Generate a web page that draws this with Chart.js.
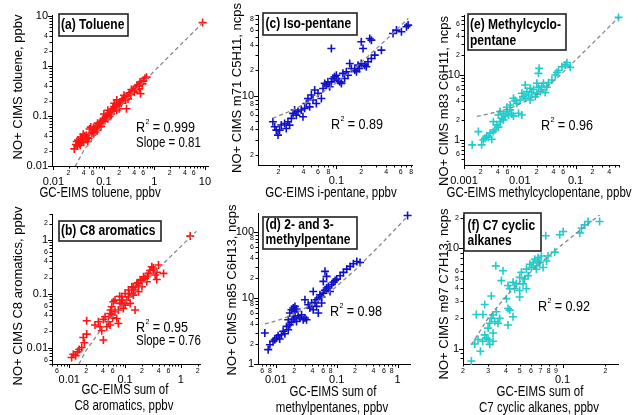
<!DOCTYPE html>
<html>
<head>
<meta charset="utf-8">
<title>NO+ CIMS vs GC-EIMS</title>
<script src="https://cdn.jsdelivr.net/npm/chart.js@4.4.1/dist/chart.umd.min.js"></script>
<style>
  body { margin: 0; background: #fff; }
  #fig { position: relative; width: 638px; height: 415px; overflow: hidden; }
  #fig canvas { position: absolute; left: 0; top: 0; }
</style>
</head>
<body>
<div id="fig">
  <canvas id="pa" width="638" height="415"></canvas>
  <canvas id="pb" width="638" height="415"></canvas>
  <canvas id="pc" width="638" height="415"></canvas>
  <canvas id="pd" width="638" height="415"></canvas>
  <canvas id="pe" width="638" height="415"></canvas>
  <canvas id="pf" width="638" height="415"></canvas>
</div>
<script>
// (a) toluene, ppbv vs ppbv
var tolX = [0.026,0.028,0.030,0.031,0.033,0.035,0.036,0.038,0.040,0.042,0.044,0.047,0.050,0.052,0.055,0.058,0.060,0.063,0.066,0.070,0.073,0.078,0.082,0.085,0.090,0.094,0.098,0.10,0.105,0.11,0.115,0.12,0.125,0.13,0.135,0.14,0.15,0.155,0.16,0.17,0.175,0.18,0.19,0.20,0.21,0.22,0.23,0.24,0.26,0.27,0.28,0.29,0.32,0.34,0.36,0.38,0.40,0.42,0.45,0.48,0.50,0.53,0.55,0.60,0.65,0.70,9.0,
            0.029,0.034,0.039,0.045,0.048,0.062,0.068,0.075,0.088,0.10,0.12,0.14,0.16,0.18,0.20,0.25,0.30,0.35,0.44,0.52,0.58];
var tolY = [0.022,0.027,0.025,0.033,0.028,0.038,0.031,0.035,0.030,0.040,0.034,0.037,0.036,0.055,0.060,0.046,0.050,0.044,0.055,0.060,0.052,0.066,0.061,0.075,0.070,0.082,0.078,0.090,0.085,0.10,0.095,0.13,0.11,0.098,0.12,0.13,0.14,0.125,0.155,0.15,0.17,0.21,0.16,0.14,0.19,0.18,0.20,0.22,0.24,0.21,0.14,0.25,0.29,0.27,0.31,0.33,0.30,0.36,0.40,0.42,0.35,0.28,0.45,0.50,0.57,0.60,7.4,
            0.031,0.026,0.043,0.041,0.031,0.058,0.048,0.072,0.062,0.11,0.088,0.11,0.18,0.13,0.17,0.26,0.22,0.34,0.34,0.48,0.44];
var tolFitX = [0.027,0.04,0.07,0.1,0.3,1,3,10];
var tolFitY = [0.0099,0.0204,0.0447,0.069,0.231,0.798,2.42,8.09];
var tolXMajor = [0.01,0.1,1,10], tolXMinor = [0.02,0.04,0.06,0.2,0.4,0.6,2,4,6];
var tolYMajor = [0.01,0.1,1,10], tolYMinor = [0.02,0.04,0.2,0.4,2,4];

// (b) C8 aromatics
var c8X = [0.011,0.0118,0.013,0.0141,0.0151,0.0167,0.0186,0.0178,0.0205,0.0205,0.0289,0.0332,0.0356,0.0408,0.0437,0.0381,0.0408,0.0502,0.0538,0.0576,0.0617,0.066,0.0708,0.0758,0.0812,0.087,0.093,0.10,0.107,0.115,0.123,0.132,0.141,0.151,0.162,0.174,0.186,0.20,0.214,0.245,0.263,0.301,0.322,0.346,0.37,0.489,0.397,0.066,0.0758,0.087,0.10,0.115,0.132,0.151,0.174,0.20,0.228,0.0469,0.0538,0.0576,1.47,0.37,
           0.055,0.08,0.12,0.14,0.17,0.25,0.28,0.32,0.09,0.06];
var c8Y = [0.0066,0.0076,0.0071,0.0084,0.0093,0.0101,0.0124,0.0155,0.0179,0.0316,0.0263,0.0303,0.0245,0.0335,0.0375,0.0207,0.0139,0.0303,0.0432,0.0574,0.0711,0.0464,0.0349,0.0282,0.0663,0.088,0.0535,0.101,0.0763,0.117,0.0663,0.135,0.0944,0.0499,0.155,0.109,0.179,0.135,0.206,0.167,0.238,0.316,0.274,0.222,0.25,0.238,0.34,0.0763,0.0499,0.0663,0.0616,0.088,0.101,0.117,0.144,0.179,0.192,0.0245,0.0263,0.0403,1.17,0.184,
           0.05,0.09,0.10,0.13,0.16,0.21,0.27,0.30,0.075,0.036];
var c8FitX = [0.0149,0.02,0.04,0.1,0.3,1,1.9];
var c8FitY = [0.005,0.0089,0.0241,0.0697,0.222,0.754,1.44];
var c8XMajor = [0.01,0.1,1], c8XMinor = [0.006,0.02,0.04,0.06,0.2,0.4,0.6,2];
var c8YMajor = [0.01,0.1,1], c8YMinor = [0.006,0.02,0.04,0.06,0.2,0.4,0.6,2];

// (c) iso-pentane, ncps
var ipX = [0.0171,0.0188,0.0197,0.0216,0.0237,0.026,0.0286,0.030,0.0313,0.0328,0.0377,0.0414,0.0434,0.0454,0.0499,0.0522,0.0547,0.0573,0.0659,0.0723,0.0757,0.083,0.087,0.091,0.095,0.10,0.105,0.11,0.12,0.132,0.145,0.152,0.167,0.183,0.20,0.22,0.241,0.265,0.291,0.087,0.20,0.21,0.253,0.265,0.484,0.532,0.611,0.703,0.736,0.35,0.0248,0.0272,0.0344,0.0395,0.0476,0.06,0.069,0.079,0.115,0.126,0.138,0.175,0.19,0.23,0.018,0.0206];
var ipY = [4.93,3.93,3.43,4.51,4.71,4.93,5.4,6.2,6.8,5.9,6.8,7.1,8.1,9.3,10.2,8.9,11.7,8.1,9.3,14,13.4,12.8,14.6,16,16.8,17.5,15.3,14.6,18.4,19.2,24.1,21,20.1,23,24.1,23,25.2,27.6,30.2,36.2,43.5,36.2,47.5,45.4,54.5,59.7,57,65.3,68.4,34.6,4.1,4.5,6.5,5.65,7.4,10.7,12.2,14.6,14,16,17.5,19.2,21,22,4.3,3.93];
var ipFitX = [0.017,0.03,0.05,0.1,0.2,0.4,0.74];
var ipFitY = [5.4,6.8,8.9,14.2,24.8,46,82];
var ipXMajor = [0.1], ipXMinor = [0.02,0.04,0.06,0.08,0.2,0.4,0.6,0.8];
var ipYMajor = [10], ipYMinor = [2,4,6,8,20,40,60,80];

// (d) 2- and 3-methylpentane
var mpX = [0.0075,0.008,0.009,0.0096,0.0103,0.0109,0.0116,0.0124,0.0132,0.0141,0.015,0.016,0.017,0.0181,0.016,0.0193,0.0206,0.0219,0.0233,0.0249,0.0265,0.0282,0.0301,0.032,0.017,0.0181,0.0193,0.0206,0.0066,0.0301,0.0412,0.0387,0.044,0.0468,0.0499,0.0531,0.0566,0.0603,0.0642,0.0684,0.0729,0.0777,0.0828,0.0882,0.094,0.10,0.114,0.129,0.146,0.166,0.188,0.214,0.0642,0.0684,0.0603,0.0341,0.0363,0.0412,0.0468,0.0499,0.0566,0.0206,0.0219,1.46,0.242];
var mpY = [1.65,1.96,2.2,2.34,2.48,2.69,2.39,2.78,3.13,2.88,3.72,3.31,3.94,4.28,4.7,4.81,5.15,4.43,5.4,4.98,5.59,4.7,4.98,4.7,5.93,6.65,7.05,7.48,2.95,9.43,12.6,8.4,8.6,9.43,10,11.2,10.4,11.9,13.1,14.2,15,12.6,15.9,17.3,18.5,19.4,21.8,24.5,27.5,30.2,33.1,35.9,25.4,21.3,17.9,7.9,7.05,6.65,7.48,5.93,8.4,6.28,6.81,178.5,34.6];
var mpFitX = [0.0066,0.01,0.02,0.05,0.1,0.2,0.5,1.0,1.46];
var mpFitY = [4.07,4.47,5.64,9.15,15.0,26.7,61.8,120,174];
var mpXMajor = [0.01,0.1,1], mpXMinor = [0.006,0.008,0.02,0.04,0.06,0.08,0.2,0.4,0.6,0.8];
var mpYMajor = [1,10,100], mpYMinor = [2,4,6,8,20,40,60,80];

// (e) methylcyclopentane
var mcpX = [0.0014,0.00181,0.00207,0.00222,0.00238,0.00255,0.00273,0.00293,0.00314,0.00336,0.0036,0.00336,0.00386,0.00414,0.00444,0.00475,0.00509,0.00414,0.00444,0.00509,0.00584,0.00625,0.0067,0.00718,0.00769,0.00946,0.0109,0.00545,0.00584,0.0067,0.00769,0.00883,0.0101,0.0109,0.0116,0.0125,0.0134,0.0143,0.0153,0.0164,0.0176,0.0189,0.0202,0.0216,0.0232,0.0248,0.0266,0.0285,0.0305,0.0327,0.0376,0.0432,0.0462,0.0495,0.0568,0.0652,0.0698,0.0801,0.0222,0.0216,0.0125,0.00825,0.0202,0.0153,0.589];
var mcpY = [0.838,1.34,0.838,1.0,1.06,1.15,1.1,1.27,1.02,1.34,1.43,1.91,1.7,1.57,1.91,2.15,2.03,2.42,2.73,2.57,2.73,2.42,2.9,2.51,2.34,2.57,2.42,2.29,3.18,3.45,4.38,3.66,4.12,5.22,4.64,4.38,5.54,4.92,4.12,5.35,6.02,4.64,5.1,6.46,5.54,6.78,7.45,5.35,6.46,7.62,8.38,10,10.9,11.7,13.4,14.3,15.5,13.1,12.7,10.6,7.02,4.03,7.45,6.24,77.2];
var mcpFitX = [0.0017,0.003,0.0067,0.015,0.027,0.05,0.08,0.2,0.59];
var mcpFitY = [2.3,2.55,3.05,4.2,6.0,9.5,14,30.5,77];
var mcpXMajor = [0.001,0.01,0.1], mcpXMinor = [0.002,0.004,0.006,0.02,0.04,0.06,0.2,0.4];
var mcpYMajor = [1,10], mcpYMinor = [0.4,0.6,2,4,6,20,40,60];

// (f) C7 cyclic alkanes
var c7X = [0.0229,0.0242,0.0255,0.0265,0.0248,0.0276,0.0284,0.0284,0.0292,0.030,0.0308,0.030,0.0308,0.0316,0.0325,0.0325,0.0334,0.0343,0.0316,0.0352,0.0362,0.034,0.0382,0.0372,0.0404,0.0414,0.0414,0.0426,0.0449,0.0414,0.0426,0.0449,0.0461,0.0474,0.05,0.05,0.0514,0.0528,0.0542,0.0557,0.0573,0.0589,0.0604,0.0621,0.0638,0.0655,0.0673,0.0692,0.071,0.073,0.0771,0.079,0.0881,0.0762,0.0956,0.101,0.136,0.143,0.151,0.182,0.05,0.0275,0.0325,0.0655,0.0673,0.0557,0.132];
var c7Y = [0.75,1.11,1.23,0.94,2.19,2.19,2.75,1.37,1.27,1.23,1.1,1.6,1.79,2.0,1.43,2.16,1.86,2.33,3.35,1.79,2.0,6.7,5.98,4.77,3.15,4.26,2.51,2.42,2.08,1.72,3.95,4.59,3.95,4.43,5.14,3.8,5.77,4.43,4.95,6.21,5.35,6.96,6.46,7.22,7.79,6.7,8.09,7.22,8.41,6.46,7.5,8.41,9.2,13.4,13.7,14.8,16,17.2,18.6,18.6,3.27,1.18,1.18,6.2,7.5,3.95,14.3];
var c7FitX = [0.0229,0.03,0.04,0.05,0.07,0.1,0.14,0.182];
var c7FitY = [1.09,2.01,3.3,4.59,7.17,11.0,16.2,21.6];
var c7XMajor = [0.1], c7XMinor = [0.02,0.03,0.04,0.05,0.06,0.07,0.08,0.09,0.2];
var c7YMajor = [1,10], c7YMinor = [2,3,4,5,6,20];

var FAM = "'Liberation Sans', Arial, Helvetica, sans-serif";
var RED = '#ff1414', BLUE = '#1010c8', CYAN = '#20cccc';
var SQ = 0.88; // the original figure is a little narrower than tall

Chart.defaults.font.family = FAM;

function isIn(list, v) {
  for (var i = 0; i < list.length; i++) {
    if (Math.abs(list[i] - v) <= list[i] * 1e-6) return true;
  }
  return false;
}
function findIn(list, v) {
  for (var i = 0; i < list.length; i++) {
    if (Math.abs(list[i] - v) <= list[i] * 1e-6) return list[i];
  }
  return null;
}
function lead(v) {
  return String(Math.round(v / Math.pow(10, Math.floor(Math.log10(v) + 1e-9))));
}
// every 1..9 x 10^n inside the range, like Igor's minor ticks
function logTicks(min, max) {
  var out = [];
  for (var e = Math.floor(Math.log10(min)); e <= Math.ceil(Math.log10(max)); e++) {
    for (var m = 1; m <= 9; m++) {
      var v = parseFloat((m * Math.pow(10, e)).toPrecision(6));
      if (v >= min * 0.999 && v <= max * 1.001) out.push(v);
    }
  }
  return out;
}
function zip(xs, ys) {
  var n = Math.min(xs.length, ys.length), out = [];
  for (var i = 0; i < n; i++) out.push({ x: xs[i], y: ys[i] });
  return out;
}

function hText(ctx, str, x, y, font, align, sq) {
  ctx.save();
  ctx.font = font;
  ctx.textAlign = align || 'left';
  ctx.textBaseline = 'middle';
  ctx.translate(x, y);
  ctx.scale(sq || SQ, 1);
  ctx.fillText(str, 0, 0);
  ctx.restore();
}
function vText(ctx, str, x, y, font) {
  ctx.save();
  ctx.font = font;
  ctx.textAlign = 'center';
  ctx.textBaseline = 'middle';
  ctx.translate(x, y);
  ctx.scale(0.95, 1);
  ctx.rotate(-Math.PI / 2);
  ctx.fillText(str, 0, 0);
  ctx.restore();
}
function r2Text(ctx, val, x, y) {
  ctx.save();
  ctx.translate(x, y);
  ctx.scale(0.9, 1);
  ctx.textBaseline = 'middle';
  ctx.textAlign = 'left';
  ctx.font = '14px ' + FAM;
  ctx.fillText('R', 0, 0);
  var w = ctx.measureText('R').width;
  ctx.font = '8px ' + FAM;
  ctx.fillText('2', w + 0.5, -6);
  ctx.font = '14px ' + FAM;
  ctx.fillText(' = ' + val, w + 4.5, 0);
  ctx.restore();
}

var decor = {
  id: 'decor',
  afterDraw: function (chart, args, o) {
    var ctx = chart.ctx, a = chart.chartArea;
    var xs = chart.scales.x, ys = chart.scales.y;
    ctx.save();
    ctx.fillStyle = '#000';
    ctx.strokeStyle = '#000';
    ctx.lineWidth = 1;
    ctx.beginPath();
    xs.ticks.forEach(function (t) {
      var p = Math.round(xs.getPixelForValue(t.value)) + 0.5;
      var len = isIn(o.xMajor, t.value) ? 4 : 2.5;
      ctx.moveTo(p, a.bottom);
      ctx.lineTo(p, a.bottom + len);
    });
    ys.ticks.forEach(function (t) {
      var p = Math.round(ys.getPixelForValue(t.value)) + 0.5;
      var len = isIn(o.yMajor, t.value) ? 4 : 2.5;
      ctx.moveTo(a.left, p);
      ctx.lineTo(a.left - len, p);
    });
    ctx.stroke();

    // panel name box
    var b = o.box;
    ctx.fillStyle = '#fff';
    ctx.fillRect(b[0], b[1], b[2] - b[0], b[3] - b[1]);
    ctx.strokeStyle = '#222';
    ctx.lineWidth = 1.6;
    ctx.strokeRect(b[0], b[1], b[2] - b[0], b[3] - b[1]);
    ctx.fillStyle = '#000';
    o.name.forEach(function (l) {
      hText(ctx, l[0], l[1], l[2], 'bold 14px ' + FAM, 'left', 0.86);
    });

    r2Text(ctx, o.r2[0], o.r2[1], o.r2[2]);
    if (o.slope) hText(ctx, 'Slope = ' + o.slope[0], o.slope[1], o.slope[2], '14px ' + FAM, 'left', 0.82);

    o.xTitle.forEach(function (l) {
      hText(ctx, l[0], l[1], l[2], '14px ' + FAM, 'center', 0.82);
    });
    vText(ctx, o.yTitle[0], o.yTitle[1], o.yTitle[2], '13px ' + FAM);
    ctx.restore();
  }
};

function panel(p) {
  var xTicks = logTicks(p.xr[0], p.xr[1]);
  var yTicks = logTicks(p.yr[0], p.yr[1]);
  function label(major, minor) {
    return function (v) {
      var m = findIn(major, v);
      if (m !== null) return String(m);
      if (isIn(minor, v)) return lead(v);
      return '';
    };
  }
  function xFont(c) {
    if (c.tick && isIn(p.xMajor, c.tick.value)) return { family: FAM, size: 11, lineHeight: '28px' };
    return { family: FAM, size: 7, lineHeight: '10px' };
  }
  function yFont(c) {
    if (c.tick && isIn(p.yMajor, c.tick.value)) return { family: FAM, size: 11 };
    return { family: FAM, size: 7 };
  }
  var A = p.area;
  return new Chart(document.getElementById(p.id), {
    type: 'scatter',
    data: {
      datasets: [{
        data: zip(p.fx, p.fy),
        showLine: true,
        borderColor: '#888888',
        borderWidth: 1.3,
        borderDash: [4, 3],
        pointRadius: 0,
        fill: false
      }, {
        data: zip(p.x, p.y),
        pointStyle: 'cross',
        pointRadius: 4,
        borderColor: p.color,
        pointBorderColor: p.color,
        pointBorderWidth: 1.6,
        clip: false
      }]
    },
    options: {
      responsive: false,
      animation: false,
      events: [],
      layout: { padding: { left: A[0] - 40, top: A[1], right: 638 - A[2], bottom: 415 - A[3] - 30 } },
      plugins: {
        legend: { display: false },
        tooltip: { enabled: false },
        decor: {
          xMajor: p.xMajor, yMajor: p.yMajor, box: p.box, name: p.name,
          r2: p.r2, slope: p.slope, xTitle: p.xTitle, yTitle: p.yTitle
        }
      },
      scales: {
        x: {
          type: 'logarithmic',
          min: p.xr[0], max: p.xr[1],
          afterBuildTicks: function (s) { s.ticks = xTicks.map(function (v) { return { value: v }; }); },
          afterFit: function (s) { s.height = 30; },
          grid: { display: false, drawTicks: false },
          border: { display: true, color: '#000', width: 1 },
          ticks: { autoSkip: false, maxRotation: 0, minRotation: 0, padding: 2, color: '#000',
                   callback: label(p.xMajor, p.xMinor), font: xFont }
        },
        y: {
          type: 'logarithmic',
          min: p.yr[0], max: p.yr[1],
          afterBuildTicks: function (s) { s.ticks = yTicks.map(function (v) { return { value: v }; }); },
          afterFit: function (s) { s.width = 40; },
          grid: { display: false, drawTicks: false },
          border: { display: true, color: '#000', width: 1 },
          ticks: { autoSkip: false, padding: 4, color: '#000',
                   callback: label(p.yMajor, p.yMinor), font: yFont }
        }
      }
    },
    plugins: [decor]
  });
}

panel({ id: 'pa', x: tolX, y: tolY, fx: tolFitX, fy: tolFitY, color: RED,
  area: [52, 15, 208, 166], xr: [0.0094, 11.5], yr: [0.01, 10.5],
  xMajor: tolXMajor, xMinor: tolXMinor, yMajor: tolYMajor, yMinor: tolYMinor,
  box: [59, 14, 128, 36], name: [['(a) Toluene', 61, 25.5]],
  r2: ['0.999', 136, 128], slope: ['0.81', 136, 143],
  xTitle: [['GC-EIMS toluene, ppbv', 100, 193]], yTitle: ['NO+ CIMS toluene, ppbv', 19, 87] });

panel({ id: 'pb', x: c8X, y: c8Y, fx: c8FitX, fy: c8FitY, color: RED,
  area: [52, 214, 200, 364], xr: [0.0049, 2.2], yr: [0.005, 3.0],
  xMajor: c8XMajor, xMinor: c8XMinor, yMajor: c8YMajor, yMinor: c8YMinor,
  box: [59, 221, 161, 241], name: [['(b) C8 aromatics', 61, 231.5]],
  r2: ['0.95', 136, 328], slope: ['0.76', 136, 341],
  xTitle: [['GC-EIMS sum of', 125, 390], ['C8 aromatics, ppbv', 124, 406]], yTitle: ['NO+ CIMS C8 aromatics, ppbv', 19, 296] });

panel({ id: 'pc', x: ipX, y: ipY, fx: ipFitX, fy: ipFitY, color: BLUE,
  area: [258, 15, 412, 165], xr: [0.0113, 0.82], yr: [1.52, 90],
  xMajor: ipXMajor, xMinor: ipXMinor, yMajor: ipYMajor, yMinor: ipYMinor,
  box: [263, 13, 357, 35], name: [['(c) Iso-pentane', 265.5, 24.5]],
  r2: ['0.89', 331, 125], slope: null,
  xTitle: [['GC-EIMS i-pentane, ppbv', 331, 193]], yTitle: ['NO+ CIMS m71 C5H11, ncps', 238, 88] });

panel({ id: 'pd', x: mpX, y: mpY, fx: mpFitX, fy: mpFitY, color: BLUE,
  area: [258, 213, 410, 364], xr: [0.0051, 1.6], yr: [1, 195],
  xMajor: mpXMajor, xMinor: mpXMinor, yMajor: mpYMajor, yMinor: mpYMinor,
  box: [263, 217, 357, 249], name: [['(d) 2- and 3-', 265.5, 225.5], ['methylpentane', 265.5, 240.5]],
  r2: ['0.98', 330, 312], slope: null,
  xTitle: [['GC-EIMS sum of', 333, 392], ['methylpentanes, ppbv', 332, 408]], yTitle: ['NO+ CIMS m85 C6H13, ncps', 233, 290] });

panel({ id: 'pe', x: mcpX, y: mcpY, fx: mcpFitX, fy: mcpFitY, color: CYAN,
  area: [464, 15, 619, 165], xr: [0.001, 0.6], yr: [0.41, 84],
  xMajor: mcpXMajor, xMinor: mcpXMinor, yMajor: mcpYMajor, yMinor: mcpYMinor,
  box: [468, 14, 566, 50], name: [['(e) Methylcyclo-', 470, 25.5], ['pentane', 470, 41.5]],
  r2: ['0.96', 541, 126], slope: null,
  xTitle: [['GC-EIMS methylcyclopentane, ppbv', 539, 193]], yTitle: ['NO+ CIMS m83 C6H11, ncps', 445, 101] });

panel({ id: 'pf', x: c7X, y: c7Y, fx: c7FitX, fy: c7FitY, color: CYAN,
  area: [463, 215, 618, 364], xr: [0.02, 0.245], yr: [0.74, 21.6],
  xMajor: c7XMajor, xMinor: c7XMinor, yMajor: c7YMajor, yMinor: c7YMinor,
  box: [464, 213, 541, 251], name: [['(f) C7 cyclic', 467.5, 226.5], ['alkanes', 467.5, 241.5]],
  r2: ['0.92', 538, 307], slope: null,
  xTitle: [['GC-EIMS sum of', 540, 392], ['C7 cyclic alkanes, ppbv', 539, 408]], yTitle: ['NO+ CIMS m97 C7H13, ncps', 445, 294] });
</script>
</body>
</html>
